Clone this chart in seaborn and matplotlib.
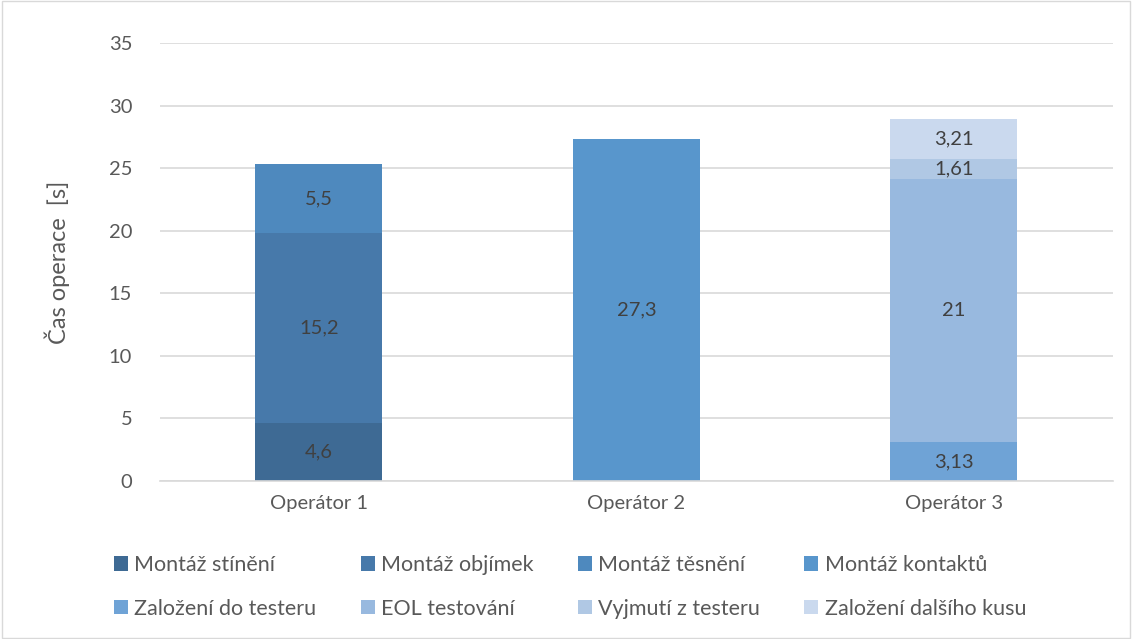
import matplotlib
matplotlib.use("Agg")
import matplotlib.pyplot as plt
from matplotlib.patches import Patch, Rectangle
import numpy as np
import pandas as pd
import seaborn as sns

# Operators on the x axis
categories = ["Operátor 1", "Operátor 2", "Operátor 3"]

# Operation names (stack order, bottom to top)
operations = [
    "Montáž stínění",
    "Montáž objímek",
    "Montáž těsnění",
    "Montáž kontaktů",
    "Založení do testeru",
    "EOL testování",
    "Vyjmutí z testeru",
    "Založení dalšího kusu",
]

# Operation times [s] per operator (0 = operation not done by that operator)
montaz_stineni = [4.6, 0, 0]
montaz_objimek = [15.2, 0, 0]
montaz_tesneni = [5.5, 0, 0]
montaz_kontaktu = [0, 27.3, 0]
zalozeni_do_testeru = [0, 0, 3.13]
eol_testovani = [0, 0, 21]
vyjmuti_z_testeru = [0, 0, 1.61]
zalozeni_dalsiho_kusu = [0, 0, 3.21]

series = [montaz_stineni, montaz_objimek, montaz_tesneni, montaz_kontaktu,
          zalozeni_do_testeru, eol_testovani, vyjmuti_z_testeru, zalozeni_dalsiho_kusu]

colors = ["#3E6A94", "#4779AA", "#4E89BE", "#5896CC",
          "#6FA3D6", "#98B9DF", "#B0C8E4", "#CAD9EE"]

yticks = [0, 5, 10, 15, 20, 25, 30, 35]
ylabel = "Čas operace  [s]"

sns.set_theme(style="white")
plt.rcParams["font.family"] = ["Lato", "DejaVu Sans"]

text_color = "#595959"
grid_color = "#D9D9D9"

fig = plt.figure(figsize=(11.32, 6.39), dpi=100)
ax = fig.add_axes([0.1413, 0.2473, 0.8417, 0.6854])

bottoms = np.zeros(len(categories))
for name, vals, col in zip(operations, series, colors):
    vals = np.asarray(vals, dtype=float)
    mask = vals > 0
    df = pd.DataFrame({"operator": np.array(categories)[mask], "time": vals[mask]})
    n_before = len(ax.patches)
    sns.barplot(data=df, x="operator", y="time", order=categories, color=col,
                width=0.4, bottom=bottoms[mask], errorbar=None, saturation=1,
                linewidth=0, ax=ax)
    bars = ax.patches[n_before:]
    for bar, v in zip(bars, vals[mask]):
        label = f"{v:g}".replace(".", ",")
        ax.text(bar.get_x() + bar.get_width() / 2, bar.get_y() + bar.get_height() / 2,
                label, ha="center", va="center", fontsize=14.5, color="#404040")
    bottoms = bottoms + vals

ax.set_xlim(-0.5, 2.5)
ax.set_ylim(0, 35)
ax.set_yticks(yticks)
ax.set_yticklabels([str(t) for t in yticks])
ax.yaxis.grid(True, color=grid_color, linewidth=1.2)
ax.set_axisbelow(True)
for side in ["top", "right", "left"]:
    ax.spines[side].set_visible(False)
ax.spines["bottom"].set_color(grid_color)
ax.spines["bottom"].set_linewidth(1.2)
ax.tick_params(axis="both", length=0, labelsize=14.5, labelcolor=text_color)
ax.tick_params(axis="y", pad=20)
ax.tick_params(axis="x", pad=10)
ax.set_xlabel("")
ax.set_ylabel(ylabel, fontsize=17, color=text_color, labelpad=28)

handles = [Patch(facecolor=c, edgecolor="none", label=n) for n, c in zip(operations, colors)]
order = [0, 4, 1, 5, 2, 6, 3, 7]
fig.legend([handles[i] for i in order], [operations[i] for i in order],
           loc="upper left", bbox_to_anchor=(0.093, 0.145), ncol=4, frameon=False,
           fontsize=15.5, labelcolor=text_color, handlelength=0.65, handleheight=0.65,
           handletextpad=0.3, columnspacing=2.05, labelspacing=1.1, borderaxespad=0)

fig.patches.append(Rectangle((0.002, 0.002), 0.996, 0.996, transform=fig.transFigure,
                             fill=False, edgecolor=grid_color, linewidth=1))

fig.savefig("out.png", dpi=100, facecolor="white")
